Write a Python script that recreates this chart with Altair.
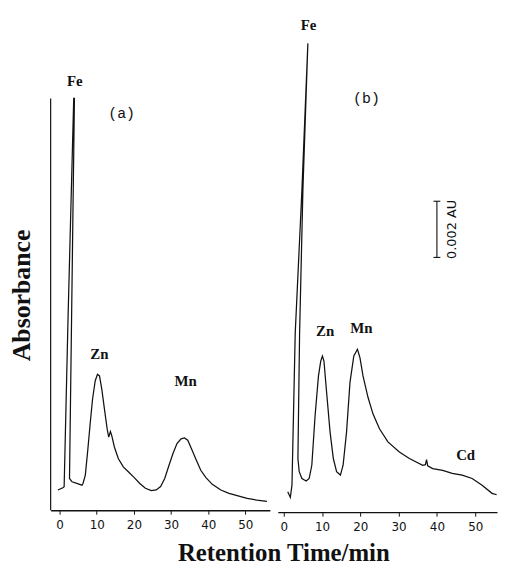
import altair as alt
import pandas as pd

# ---- digitised chromatogram (a): retention time (min), absorbance (mAU above baseline) ----
a_t = [-0.45, 0.88, 1.23, 2.29, 3.81, 4.0, 2.67, 3.36, 6.03, 6.3, 6.93, 7.63, 8.27, 8.88, 9.6, 10.2,
       10.75, 11.36, 12.08, 12.8, 13.23, 13.68, 14.03, 14.75, 15.8, 17.15, 18.5, 20.1, 21.6, 23.1,
       24.7, 26.0, 27.2, 28.3, 29.3, 30.5, 31.6, 32.7, 33.6, 34.5, 35.5, 36.7, 38.0, 39.4, 41.1,
       43.4, 45.6, 47.8, 50.5, 53.1, 55.8]
a_y = [0.72, 0.80, 0.84, 6.90, 14.66, 14.66, 1.13, 1.01, 0.89, 0.95, 1.25, 2.19, 3.13, 3.96, 4.61, 4.84,
       4.78, 4.31, 3.60, 2.90, 2.60, 2.80, 2.66, 2.25, 1.84, 1.54, 1.37, 1.16, 0.95, 0.78,
       0.70, 0.72, 0.84, 1.13, 1.54, 2.01, 2.37, 2.54, 2.57, 2.49, 2.19, 1.81, 1.42, 1.16, 0.92,
       0.72, 0.60, 0.52, 0.42, 0.36, 0.31]

# ---- digitised chromatogram (b) ----
b_t = [1.04, 1.72, 2.15, 3.0, 4.74, 6.3, 5.0, 4.14, 3.70, 4.04, 4.74, 5.86, 6.64, 7.33, 8.19, 9.07,
       9.66, 10.1, 10.5, 11.2, 12.1, 12.95, 13.8, 14.8, 15.5, 16.4, 17.3, 18.3, 19.25, 19.9, 20.7,
       22.0, 23.3, 25.0, 27.2, 30.2, 32.8, 36.3, 37.0, 37.3, 37.6, 38.9, 41.5, 44.0, 46.6, 49.2,
       51.8, 54.4, 55.6]
b_y = [0.66, 0.46, 0.89, 6.31, 11.38, 16.62, 11.38, 6.31, 1.84, 1.37, 1.13, 1.04, 1.13, 1.60, 3.37, 4.78,
       5.31, 5.49, 5.31, 4.19, 2.78, 1.84, 1.37, 1.25, 1.60, 2.78, 4.55, 5.49, 5.73, 5.43, 4.78,
       4.02, 3.43, 2.90, 2.43, 2.07, 1.84, 1.60, 1.62, 1.80, 1.58, 1.48, 1.42, 1.31, 1.25, 1.13,
       0.89, 0.60, 0.55]

tick_vals = [0, 10, 20, 30, 40, 50]

a_lab_t = [4.1, 10.7, 33.9]
a_lab_y = [15.27, 5.55, 4.59]
a_lab_txt = ["Fe", "Zn", "Mn"]
b_lab_t = [6.5, 10.8, 20.3, 47.5]
b_lab_y = [17.27, 6.37, 6.49, 1.95]
b_lab_txt = ["Fe", "Zn", "Mn", "Cd"]

panel_t = [16.7, 21.6]
panel_y = [14.15, 14.68]
panel_txt = ["(a)", "(b)"]

a_axis_top = 14.66           # top of the drawn absorbance axis in (a)
bar_t = 40.0                 # 0.002 AU scale bar position (min)
bar_lo, bar_hi = 9.0, 11.0   # 2 mAU = 0.002 AU
bar_label = "0.002 AU"

Y_DOMAIN = [0, 17.8]
W, H = 221, 504
INK = "#111111"


def x_enc(domain, offset=0):
    return alt.X("t:Q", scale=alt.Scale(domain=domain, nice=False, zero=False),
                 axis=alt.Axis(values=tick_vals, format="d", title=None, grid=False,
                               domainColor=INK, domainWidth=1.4, tickColor=INK, tickSize=4,
                               tickWidth=1, labelFont="DejaVu Sans", labelFontSize=12,
                               labelColor=INK, labelPadding=5, offset=offset))


def y_enc(axis):
    return alt.Y("y:Q", scale=alt.Scale(domain=Y_DOMAIN, nice=False, zero=False), axis=axis)


ya_axis = alt.Axis(title="Absorbance", titleFont="Liberation Serif", titleFontSize=26,
                   titleFontWeight="bold", titleColor=INK, titlePadding=16, titleY=287,
                   domain=False, ticks=False, labels=False, grid=False)

# ----- panel (a) -----
da = pd.DataFrame({"t": a_t, "y": a_y, "i": list(range(len(a_t)))})
xa = x_enc([-2.4, 56.6])
ya = y_enc(ya_axis)

line_a = alt.Chart(da).mark_line(color=INK, strokeWidth=1.25).encode(x=xa, y=ya, order="i:Q")
axis_a = alt.Chart(pd.DataFrame({"t": [-2.4], "y": [0.0], "y2": [a_axis_top]})).mark_rule(
    color=INK, strokeWidth=1.2).encode(x=xa, y=ya, y2="y2:Q")
lab_a = alt.Chart(pd.DataFrame({"t": a_lab_t, "y": a_lab_y, "txt": a_lab_txt})).mark_text(
    font="Liberation Serif", fontSize=15, fontWeight="bold", color=INK, baseline="middle",
    align="center").encode(x=xa, y=ya, text="txt:N")
pan_a = alt.Chart(pd.DataFrame({"t": [panel_t[0]], "y": [panel_y[0]], "txt": [panel_txt[0]]})).mark_text(
    font="Liberation Mono", fontSize=15, color=INK, baseline="middle", align="center").encode(
    x=xa, y=ya, text="txt:N")

pa = alt.layer(axis_a, line_a, lab_a, pan_a).properties(width=W, height=H)

# ----- panel (b) -----
db = pd.DataFrame({"t": b_t, "y": b_y, "i": list(range(len(b_t)))})
xb = x_enc([-1.55, 55.7], offset=2)
yb = y_enc(None)

line_b = alt.Chart(db).mark_line(color=INK, strokeWidth=1.25).encode(x=xb, y=yb, order="i:Q")
lab_b = alt.Chart(pd.DataFrame({"t": b_lab_t, "y": b_lab_y, "txt": b_lab_txt})).mark_text(
    font="Liberation Serif", fontSize=15, fontWeight="bold", color=INK, baseline="middle",
    align="center").encode(x=xb, y=yb, text="txt:N")
pan_b = alt.Chart(pd.DataFrame({"t": [panel_t[1]], "y": [panel_y[1]], "txt": [panel_txt[1]]})).mark_text(
    font="Liberation Mono", fontSize=15, color=INK, baseline="middle", align="center").encode(
    x=xb, y=yb, text="txt:N")
bar_v = alt.Chart(pd.DataFrame({"t": [bar_t], "y": [bar_lo], "y2": [bar_hi]})).mark_rule(
    color=INK, strokeWidth=1.1).encode(x=xb, y=yb, y2="y2:Q")
bar_caps = alt.Chart(pd.DataFrame({"t": [bar_t - 0.9, bar_t - 0.9], "t2": [bar_t + 0.9, bar_t + 0.9],
                                   "y": [bar_lo, bar_hi]})).mark_rule(
    color=INK, strokeWidth=1.1).encode(x=xb, x2="t2:Q", y=yb)
bar_txt = alt.Chart(pd.DataFrame({"t": [44.0], "y": [(bar_lo + bar_hi) / 2], "txt": [bar_label]})).mark_text(
    font="DejaVu Sans", fontSize=13, color=INK, angle=270, baseline="middle", align="center").encode(
    x=xb, y=yb, text="txt:N")

pb = alt.layer(line_b, lab_b, pan_b, bar_v, bar_caps, bar_txt).properties(width=W, height=H)

chart = alt.hconcat(pa, pb, spacing=8).properties(
    padding={"left": 1, "top": 0, "right": 0, "bottom": 0},
    background="white",
    title=alt.TitleParams("Retention Time/min", orient="bottom", anchor="middle",
                          font="Liberation Serif", fontSize=25, fontWeight="bold",
                          color=INK, offset=9, dx=30),
).configure_view(stroke="transparent", strokeWidth=0)

chart.save("out.html", embed_options={"renderer": "svg", "actions": False})
